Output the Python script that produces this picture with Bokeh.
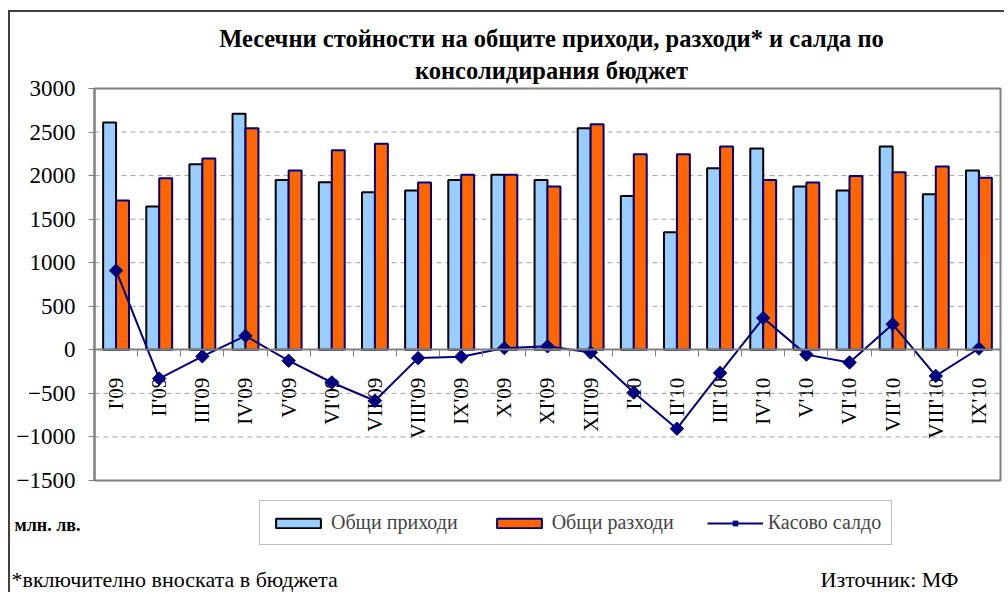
import numpy as np
from math import pi
from bokeh.plotting import figure
from bokeh.models import (Range1d, LinearAxis, FixedTicker, ColumnDataSource,
                          Legend, LegendItem)
from bokeh.core.properties import value
from bokeh.embed import file_html
from bokeh.resources import INLINE

# ---- data ----
categories = ["I'09", "II'09", "III'09", "IV'09", "V'09", "VI'09", "VII'09", "VIII'09",
              "IX'09", "X'09", "XI'09", "XII'09", "I'10", "II'10", "III'10", "IV'10",
              "V'10", "VI'10", "VII'10", "VIII'10", "IX'10"]
revenues = [2610, 1645, 2130, 2710, 1950, 1925, 1810, 1830, 1950, 2010, 1950, 2545,
            1765, 1350, 2085, 2310, 1875, 1830, 2335, 1785, 2060]
expenses = [1715, 1970, 2195, 2545, 2060, 2290, 2365, 1920, 2010, 2010, 1875, 2590,
            2245, 2245, 2335, 1950, 1920, 1995, 2040, 2105, 1975]
balance = [910, -330, -75, 160, -125, -375, -585, -95, -80, 20, 40, -30,
           -490, -905, -265, 365, -55, -145, 295, -300, 15]
series_names = ["Общи приходи", "Общи разходи", "Касово салдо"]
title_lines = ["Месечни стойности на общите приходи, разходи* и салда по",
               "консолидирания бюджет"]
unit_text = "млн. лв."
note_text = "*включително вноската в бюджета"
source_text = "Източник: МФ"
y_ticks = [-1500, -1000, -500, 0, 500, 1000, 1500, 2000, 2500, 3000]
y_min, y_max = -1500, 3000

FONT = "Liberation Serif"
n = len(categories)

# ---- layout (canvas pixels) ----
W, H = 996, 582
PL, PR, PT, PB = 84, 990, 76, 468          # plot box inside canvas
ppx = (PR - PL) / n
ppy = (PB - PT) / (y_max - y_min)
x0 = -PL / ppx
x1 = n + (W - PR) / ppx
y1 = y_max + PT / ppy
y0 = y_min - (H - PB) / ppy

def dx(px):
    return x0 + px / ppx

def dy(py):
    return y1 - py / ppy

centers = np.arange(n) + 0.5
BW = 0.3
src = ColumnDataSource(dict(xr=centers - BW / 2, xe=centers + BW / 2, xc=centers,
                            rev=revenues, exp=expenses, bal=balance))

p = figure(width=W, height=H, x_range=Range1d(x0, x1), y_range=Range1d(y0, y1),
           x_axis_type=None, y_axis_type=None, output_backend="svg",
           toolbar_location=None, min_border=0)
p.styles = {"margin-left": "8px", "margin-top": "10px",
            "border-top": "2px solid #404040", "border-left": "2px solid #404040"}
p.outline_line_color = None
p.xgrid.visible = False
p.ygrid.visible = False
p.background_fill_color = "white"
p.border_fill_color = "white"

# dashed grid lines
grid_vals = [t for t in y_ticks if t not in (0, y_min, y_max)]
p.segment(x0=[0] * len(grid_vals), x1=[n] * len(grid_vals), y0=grid_vals, y1=grid_vals,
          line_color="#a0a0a0", line_dash="5 4", line_width=1)

# bars
rb = p.vbar(x="xr", top="rev", bottom=0, width=BW, source=src,
            fill_color="#99CCFF", line_color="black", line_width=2)
eb = p.vbar(x="xe", top="exp", bottom=0, width=BW, source=src,
            fill_color="#FF6600", line_color="#000080", line_width=2)

# plot box
p.quad(left=0, right=n, bottom=y_min, top=y_max, fill_color=None,
       line_color="#808080", line_width=2)

# y axis
yax = LinearAxis(fixed_location=0, bounds=(y_min, y_max), ticker=FixedTicker(ticks=y_ticks))
yax.axis_line_color = "#808080"
yax.axis_line_width = 2
yax.major_tick_line_color = "#808080"
yax.major_tick_out = 6
yax.major_tick_in = 0
yax.minor_tick_line_color = None
yax.major_label_text_font = FONT
yax.major_label_text_font_size = "23px"
yax.major_label_text_color = "black"
yax.major_label_standoff = 13
p.add_layout(yax, "left")

# x axis at zero, ticks between categories
xax = LinearAxis(fixed_location=0, bounds=(0, n), ticker=FixedTicker(ticks=list(range(n + 1))))
xax.axis_line_color = "#808080"
xax.axis_line_width = 2
xax.major_tick_line_color = "#808080"
xax.major_tick_out = 7
xax.major_tick_in = 0
xax.minor_tick_line_color = None
xax.major_label_text_color = None
p.add_layout(xax, "below")

# category labels
lab = LinearAxis(fixed_location=0, ticker=FixedTicker(ticks=list(centers)))
lab.axis_line_color = None
lab.major_tick_line_color = None
lab.minor_tick_line_color = None
lab.major_label_overrides = {float(c): s for c, s in zip(centers, categories)}
lab.major_label_orientation = pi / 2
lab.major_label_standoff = 22
lab.major_label_text_font = FONT
lab.major_label_text_font_size = "21px"
lab.major_label_text_color = "black"
lab.level = "underlay"
p.add_layout(lab, "below")

# balance line
ln = p.line(x="xc", y="bal", source=src, line_color="#000080", line_width=2)
mk = p.scatter(x="xc", y="bal", source=src, marker="square", angle=pi / 4, size=9.5,
               fill_color="#000080", line_color="#000080")

legend = Legend(items=[LegendItem(label=series_names[0], renderers=[rb]),
                       LegendItem(label=series_names[1], renderers=[eb]),
                       LegendItem(label=series_names[2], renderers=[ln, mk])],
                orientation="horizontal", location=(249, H - 533))
legend.border_line_color = "#808080"
legend.border_line_width = 1.5
legend.background_fill_color = "white"
legend.label_text_font = FONT
legend.label_text_font_size = "20px"
legend.glyph_width = 56
legend.glyph_height = 12
legend.label_standoff = 5
legend.spacing = 33
legend.padding = 10
legend.margin = 0
p.add_layout(legend, "center")

# texts
p.text(x=[dx(541)] * 2, y=[dy(26), dy(58)], text=title_lines,
       text_font=value(FONT), text_font_size="24.5px", text_font_style="bold",
       text_align="center", text_baseline="middle", text_color="black")
p.text(x=[dx(4)], y=[dy(512)], text=[unit_text],
       text_font=value(FONT), text_font_size="18px", text_font_style="bold",
       text_align="left", text_baseline="middle", text_color="black")
p.text(x=[dx(1)], y=[dy(567)], text=[note_text],
       text_font=value(FONT), text_font_size="22px",
       text_align="left", text_baseline="middle", text_color="black")
p.text(x=[dx(948)], y=[dy(567)], text=[source_text],
       text_font=value(FONT), text_font_size="22px",
       text_align="right", text_baseline="middle", text_color="black")

open("out.html", "w").write(file_html(p, INLINE))
